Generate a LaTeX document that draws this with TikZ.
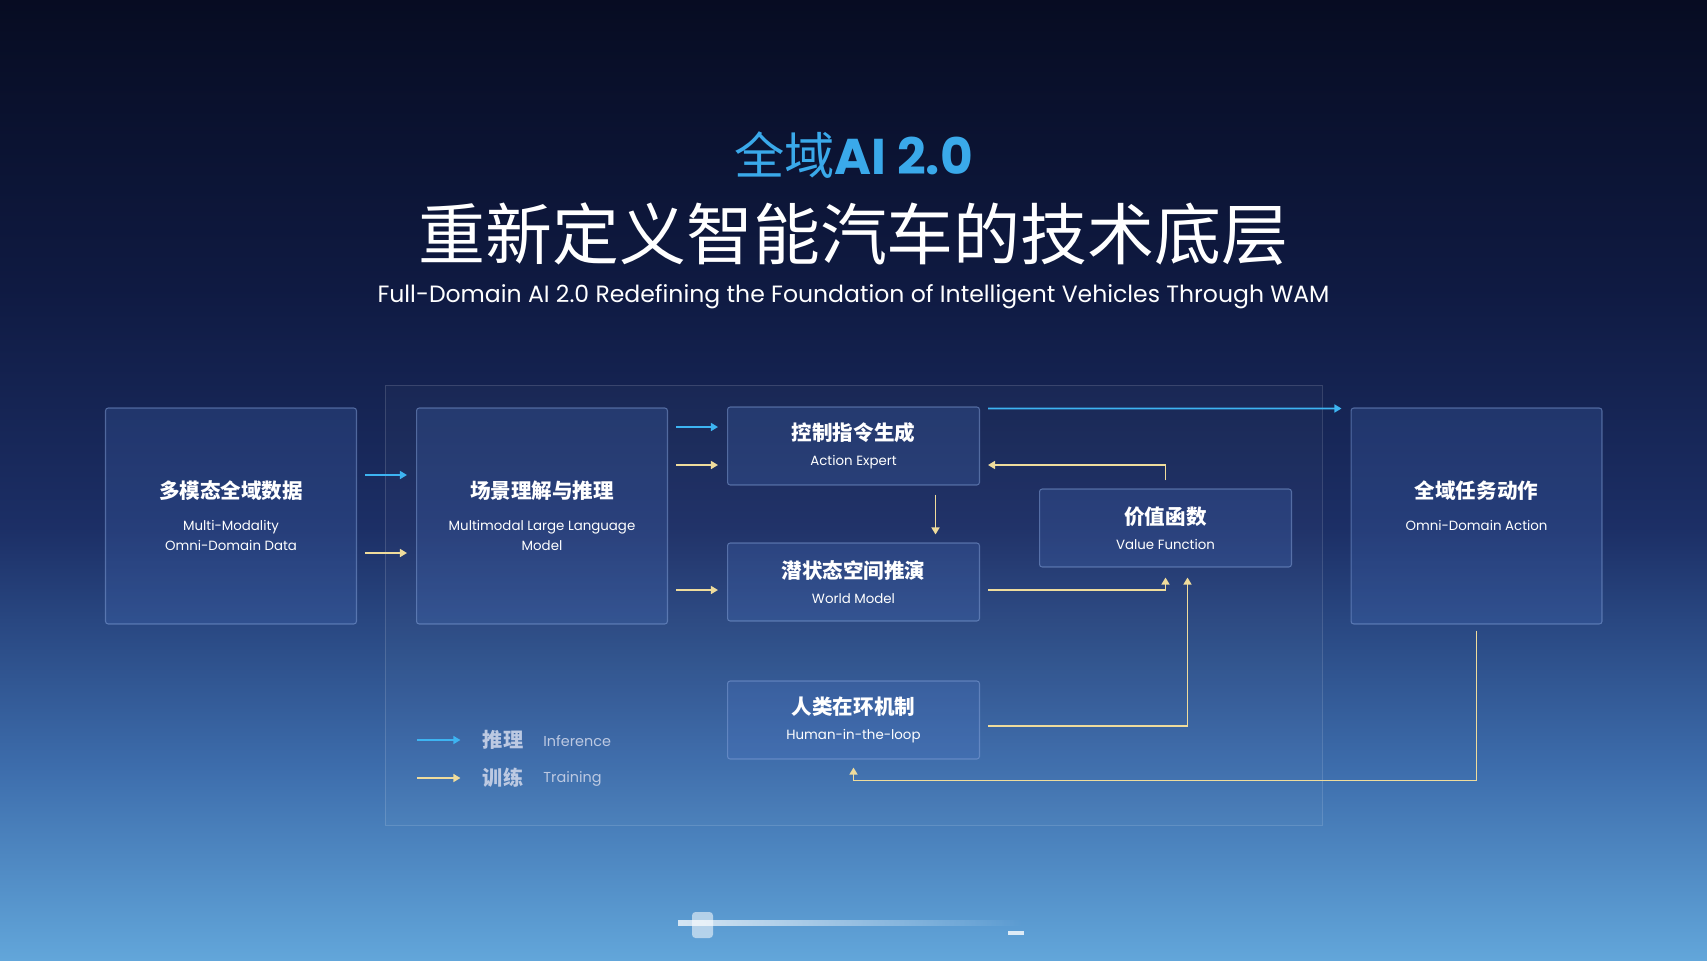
\documentclass[tikz,border=0pt]{standalone}
\usepackage{fontspec}
\setmainfont{Poppins}
\newfontfamily\cjk{Noto Sans CJK SC}
\usetikzlibrary{arrows.meta, calc, fadings}

\definecolor{bgtop}{HTML}{070C22}
\definecolor{bghigh}{HTML}{0F1A42}
\definecolor{bgmid}{HTML}{1C2F66}
\definecolor{bglow}{HTML}{3D6DAC}
\definecolor{bgbot}{HTML}{62A6DA}
\definecolor{boxfill}{HTML}{4C74C2}
\definecolor{boxline}{HTML}{86A4DC}
\definecolor{inferblue}{HTML}{3DB4F2}
\definecolor{traingold}{HTML}{EFDC9C}
\definecolor{titleblue}{HTML}{3AA9EA}
\definecolor{legendtext}{HTML}{BCC9E2}

% the path is fitted to 25bp..75bp of the shading
\pgfdeclareverticalshading{slidebg}{100bp}{color(0bp)=(bgbot); color(25bp)=(bgbot); color(35bp)=(bglow); color(47.5bp)=(bgmid); color(60bp)=(bghigh); color(75bp)=(bgtop); color(100bp)=(bgtop)}

\newcommand\boxhead{\cjk\bfseries\fontsize{11.7}{14}\selectfont}
\newcommand\boxsub{\fontsize{7.6}{11.6}\selectfont}

\begin{document}
\begin{tikzpicture}[x=0.02cm, y=-0.02cm]
        % Setup the styles for the blocks and the arrows
        \tikzset{block/.style={draw=boxline, draw opacity=0.5,
                               fill=boxfill, fill opacity=0.22,
                               text opacity=1, text=white,
                               rounded corners=1.5pt, line width=0.6pt,
                               align=center, inner sep=0pt, font=\boxsub},
                 bigblock/.style={block, minimum width=5.02cm, minimum height=4.32cm},
                 smallblock/.style={block, minimum width=5.04cm, minimum height=1.56cm},
                 infer/.style={draw=inferblue, line width=1.1pt,
                               -{Triangle[length=4pt, width=4.5pt]}},
                 train/.style={draw=traingold, line width=1.1pt,
                               -{Triangle[length=4pt, width=4.5pt]}},
                 legend/.style={text=legendtext, inner sep=0pt}}

        % Background and frame
        \shade[shading=slidebg] (0,0) rectangle (1707,960);
        \useasboundingbox (0,0) rectangle (1707,960);
        \draw[white, draw opacity=0.14, fill=white, fill opacity=0.025, line width=0.5pt]
            (385,385) rectangle (1322,825);

        % Titles
        \node[text=titleblue] (kicker) at (853.5,155)
            {{\cjk\fontsize{28.6}{31}\selectfont 全域}{\bfseries\fontsize{28.6}{31}\selectfont AI 2.0}};
        \node[text=white] (headline) at (853.5,234)
            {\cjk\fontsize{38.1}{40}\selectfont 重新定义智能汽车的技术底层};
        \node[text=white] (subline) at (853.5,297)
            {\fontsize{13.4}{16}\selectfont Full-Domain AI 2.0 Redefining the Foundation of Intelligent Vehicles Through WAM};

        % Draw the blocks
        \node[bigblock]   (data)   at (231,516)    {{\boxhead 多模态全域数据}\\[6.5pt]Multi-Modality\\Omni-Domain Data};
        \node[bigblock]   (scene)  at (542,516)    {{\boxhead 场景理解与推理}\\[6.5pt]Multimodal Large Language\\Model};
        \node[smallblock] (action) at (853.5,446)  {{\boxhead 控制指令生成}\\[2.4pt]Action Expert};
        \node[smallblock] (world)  at (853.5,582)  {{\boxhead 潜状态空间推演}\\[2.4pt]World Model};
        \node[smallblock] (value)  at (1165.5,528) {{\boxhead 价值函数}\\[2.4pt]Value Function};
        \node[smallblock] (human)  at (853.5,720)  {{\boxhead 人类在环机制}\\[2.4pt]Human-in-the-loop};
        \node[bigblock]   (omni)   at (1476.5,516) {{\boxhead 全域任务动作}\\[6.5pt]Omni-Domain Action\\\phantom{A}};

        % Connect the blocks with arrows
        \draw[infer] ($(data.east)+(8,-41)$) -- ($(scene.west)+(-9,-41)$);
        \draw[train] ($(data.east)+(8,37)$)  -- ($(scene.west)+(-9,37)$);
        \draw[infer] ($(scene.east |- action.west)+(8,-19)$) -- ($(action.west)+(-9,-19)$);
        \draw[train] ($(scene.east |- action.west)+(8,19)$)  -- ($(action.west)+(-9,19)$);
        \draw[train] ($(scene.east |- world.west)+(8,8)$)    -- ($(world.west)+(-9,8)$);
        \draw[train] ($(action.south)+(82,9)$) -- ($(world.north)+(82,-8)$);
        \draw[infer] ($(action.north east)+(8,2)$) -- ($(omni.north west)+(-9,1)$);
        \draw[train] ($(value.north)+(0,-8)$) |- ($(action.east)+(8,19)$);
        \draw[train] ($(world.east)+(8,8)$) -| ($(value.south)+(0,10)$);
        \draw[train] ($(human.east)+(8,6)$) -| ($(value.south)+(22,10)$);
        \draw[train] ($(omni.south)+(0,6)$) |- ($(human.south)+(0,21)$) -- ($(human.south)+(0,8)$);

        % Legend
        \node[legend] (leginf)   at (503,740) {\cjk\bfseries\fontsize{11.5}{13}\selectfont 推理};
        \node[legend] (legtrain) at (503,778) {\cjk\bfseries\fontsize{11.5}{13}\selectfont 训练};
        \node[legend, anchor=west] (leginftxt)   at (543,741) {\fontsize{8.2}{10}\selectfont Inference};
        \node[legend, anchor=west] (legtraintxt) at (543,779) {\fontsize{8.2}{10}\selectfont Training};
        \draw[infer] ($(leginf.west)+(-65,0)$)   -- ($(leginf.west)+(-22,0)$);
        \draw[train] ($(legtrain.west)+(-65,0)$) -- ($(legtrain.west)+(-22,0)$);

        % Player bar at the bottom
        \fill[white, opacity=0.75, path fading=east] (678,920) rectangle (1023,926);
        \fill[white, opacity=0.55, rounded corners=2pt] (692,912) rectangle (713,938);
        \fill[white, opacity=0.8] (1008,931) rectangle (1024,935);
\end{tikzpicture}
\end{document}
